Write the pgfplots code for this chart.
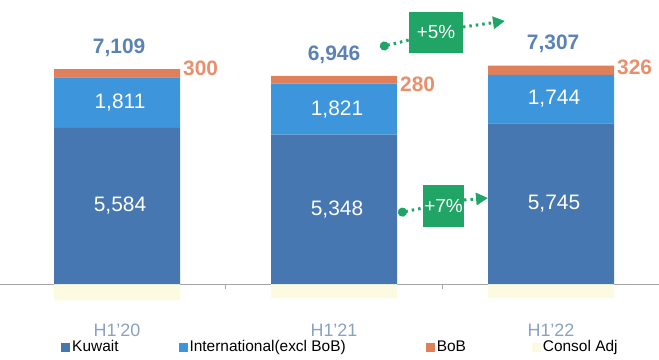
\documentclass[border=0pt]{standalone}
\usepackage{pgfplots}
\pgfplotsset{compat=1.18}
\usepackage{fontspec}
\setmainfont{Liberation Sans}
\usetikzlibrary{arrows.meta}
\definecolor{kuwait}{RGB}{70,119,176}
\definecolor{intl}{RGB}{61,149,220}
\definecolor{bob}{RGB}{224,128,90}
\definecolor{consol}{RGB}{252,251,226}
\definecolor{totc}{RGB}{91,130,181}
\definecolor{bobt}{RGB}{232,144,110}
\definecolor{catc}{RGB}{138,162,192}
\definecolor{grn}{RGB}{33,165,102}
\tikzset{
  totlab/.style={font=\fontsize{21}{21}\selectfont\bfseries, text=totc},
  boblab/.style={font=\fontsize{21}{21}\selectfont\bfseries, text=bobt, anchor=west, inner sep=0pt},
  garrow/.style={grn, line width=3bp, dash pattern=on 2.5bp off 4bp},
  gbox/.style={fill=grn, text=white, inner sep=0pt, font=\fontsize{19}{19}\selectfont},
}
\begin{document}
\begin{tikzpicture}
\begin{axis}[
  name=ax,
  scale only axis, width=659bp, height=360bp,
  xmin=-0.5392, xmax=2.4977, ymin=-2720, ymax=10165,
  clip=false,
  axis x line=middle, axis y line=none,
  x axis line style={-, draw=gray!70, line width=0.8pt},
  xtick={0,1,2}, xticklabels={H1'20,H1'21,H1'22},
  major tick length=0pt,
  extra x ticks={0.5,1.5}, extra x tick labels={},
  extra x tick style={major tick length=5bp, tick align=outside, tick style={draw=gray!70, line width=0.8pt}},
  xticklabel style={anchor=base, yshift=-52bp, font=\fontsize{18}{18}\selectfont, text=catc},
  /pgf/number format/1000 sep={,},
  /pgf/number format/assume math mode=true,
  ybar stacked, bar width=126bp,
  legend columns=4,
  legend style={draw=none, fill=none, at={(0.0926,0.036)}, anchor=west,
    font=\fontsize{15.5}{16}\selectfont, inner sep=0pt,
    /tikz/every even column/.append style={column sep=58bp}},
  legend image code/.code={\fill[#1] (0bp,-4.5bp) rectangle (9bp,4.5bp);},
]
\addplot[fill=kuwait, draw=none, nodes near coords, point meta=rawy,
  every node near coord/.style={text=white, xshift=3bp, font=\fontsize{21}{21}\selectfont}]
  coordinates {(0,5584) (1,5348) (2,5745)};
\addplot[fill=intl, draw=none, nodes near coords, point meta=rawy,
  every node near coord/.style={text=white, xshift=3bp, font=\fontsize{21}{21}\selectfont}]
  coordinates {(0,1811) (1,1821) (2,1744)};
\addplot[fill=bob, draw=none] coordinates {(0,300) (1,280) (2,326)};
\addplot[fill=consol, draw=none, stack plots=false] coordinates {(0,-586) (1,-503) (2,-508)};
\legend{Kuwait, International(excl BoB)\rule{20bp}{0pt}, BoB\rule{6bp}{0pt}, Consol Adj}

% totals
\node[totlab] at (axis cs:0.01,8447) {7,109};
\node[totlab] at (axis cs:1.0,8201) {6,946};
\node[totlab] at (axis cs:2.01,8600) {7,307};
% BoB labels
\node[boblab] at (axis cs:0.304,7731) {300};
\node[boblab] at (axis cs:1.304,7158) {280};
\node[boblab] at (axis cs:2.304,7749) {326};
% growth annotations
\draw[garrow, {Circle[length=9bp]}-] (axis cs:1.212,8482) -- (axis cs:1.346,8733);
\draw[garrow, -{Triangle[length=12bp,width=12bp]}] (axis cs:1.594,9198) -- (axis cs:1.788,9413);
\node[gbox, minimum width=54bp, minimum height=41bp] at (axis cs:1.470,9019) {+5\%};
\draw[garrow, {Circle[length=9bp]}-] (axis cs:1.295,2541) -- (axis cs:1.410,2720);
\draw[garrow, -{Triangle[length=12bp,width=12bp]}] (axis cs:1.599,3006) -- (axis cs:1.710,3078);
\node[gbox, minimum width=41bp, minimum height=42bp] at (axis cs:1.505,2792) {+7\%};
\end{axis}
\pgfresetboundingbox
\path[use as bounding box] (ax.south west) rectangle (ax.north east);
\end{tikzpicture}
\end{document}
